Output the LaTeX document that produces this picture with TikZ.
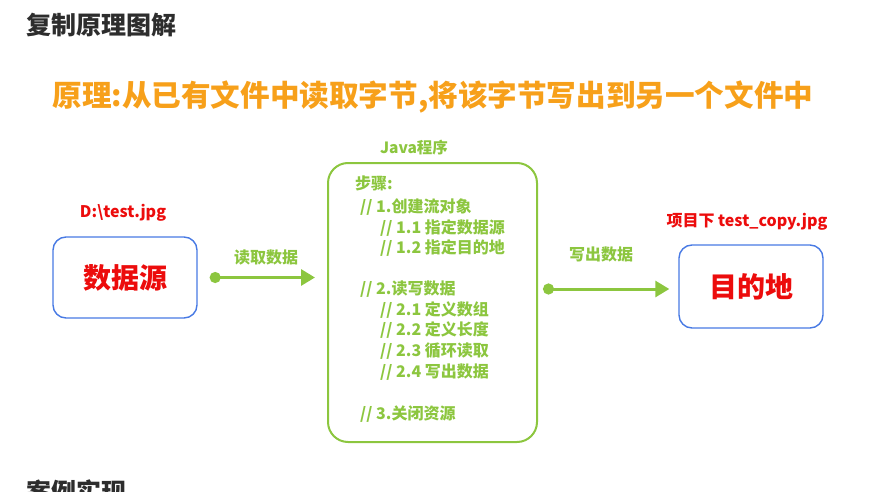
\documentclass[tikz,border=0pt]{standalone}
\usepackage{fontspec}
\setmainfont{Noto Sans CJK SC}
\usetikzlibrary{arrows.meta,positioning}

\definecolor{verde}{RGB}{140,198,63}
\definecolor{azul}{RGB}{72,122,228}
\definecolor{rojo}{RGB}{236,12,12}
\definecolor{naranja}{RGB}{247,160,26}
\definecolor{gris}{RGB}{45,45,45}

\begin{document}
\begin{tikzpicture}[
    x=1pt, y=-1pt,
    font=\bfseries,
    caja/.style={draw=azul, line width=1.4pt, rounded corners=13pt, fill=white},
    programa/.style={draw=verde, line width=2pt, rounded corners=20pt},
    ruta/.style={text=rojo, font=\bfseries\fontsize{16}{18}\selectfont, inner sep=0pt},
    etiqueta/.style={text=verde, font=\bfseries\fontsize{16}{18}\selectfont, inner sep=0pt},
    paso/.style={text=verde, anchor=west, inner sep=0pt, font=\bfseries\fontsize{16}{18}\selectfont},
    flujo/.style={draw=verde, line width=3pt, {Circle[length=11pt]}-{Triangle[length=14pt,width=16pt]}}
]
    \useasboundingbox (0,0) rectangle (870,492);
    \clip (0,0) rectangle (870,492);

    % Titulos
    \node[anchor=west, text=gris, inner sep=0pt, font=\bfseries\fontsize{25}{27}\selectfont] (titulo) at (26,25) {复制原理图解};
    \node[text=naranja, inner sep=0pt, font=\bfseries\fontsize{29.6}{32}\selectfont] (principio) at (433,97) {原理:从已有文件中读取字节,将该字节写出到另一个文件中};
    \node[anchor=west, text=gris, inner sep=0pt, font=\bfseries\fontsize{25}{27}\selectfont] (caso) at (26,492) {案例实现};

    % Origen y destino
    \node[caja, minimum width=144pt, minimum height=81pt, text=rojo, font=\bfseries\fontsize{28}{30}\selectfont] (fuente) at (125,277.5) {数据源};
    \node[ruta] (rutafuente) at (123,213) {D:\textbackslash test.jpg};
    \node[caja, minimum width=144pt, minimum height=83pt, text=rojo, font=\bfseries\fontsize{28}{30}\selectfont] (destino) at (751,286.5) {目的地};
    \node[ruta] (rutadestino) at (747,222) {项目下 test\_copy.jpg};

    % Programa Java
    \node[programa, minimum width=209pt, minimum height=279pt] (java) at (432.5,302.5) {};
    \node[etiqueta, font=\bfseries\fontsize{15.5}{17}\selectfont] (javatit) at (414,148) {Java程序};

    \foreach \y/\x/\texto in {183/355/{步骤:},207/360/{// 1.创建流对象},228/380/{// 1.1 指定数据源},
                              248/380/{// 1.2 指定目的地},289/360/{// 2.读写数据},310/380/{// 2.1 定义数组},
                              330/380/{// 2.2 定义长度},351/380/{// 2.3 循环读取},372/380/{// 2.4 写出数据},
                              414/360/{// 3.关闭资源}} {
        \node[paso] at (\x,\y) {\texto};
    }

    % Flechas
    \draw[flujo, shorten <=12pt, shorten >=12pt] (fuente.east) -- (fuente.east -| java.west);
    \node[etiqueta] (leer) at (266,257) {读取数据};
    \draw[flujo, shorten <=5pt, shorten >=9pt] ([yshift=-2.5pt]java.east |- destino.west) -- ([yshift=-2.5pt]destino.west);
    \node[etiqueta] (escribir) at (601,254) {写出数据};
\end{tikzpicture}
\end{document}
